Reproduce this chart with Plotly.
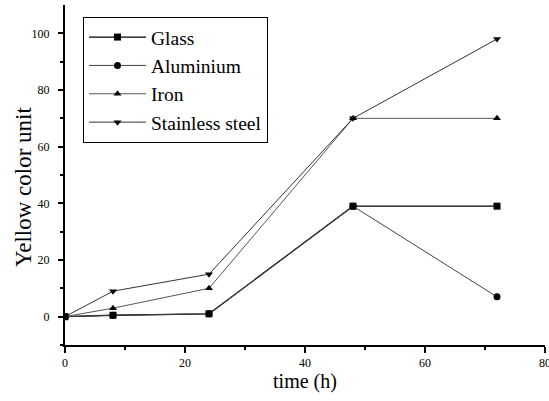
import plotly.graph_objects as go

time_h = [0, 8, 24, 48, 72]
glass = [0, 0.5, 1, 39, 39]
aluminium = [0, 0.5, 1, 39, 7]
iron = [0, 3, 10, 70, 70]
stainless = [0, 9, 15, 70, 98]

series = [
    ("Glass", glass, "square", "#000000", 1.3),
    ("Aluminium", aluminium, "circle", "#444444", 1),
    ("Iron", iron, "triangle-up", "#555555", 1),
    ("Stainless steel", stainless, "triangle-down", "#333333", 1),
]

fig = go.Figure()
for name, vals, sym, col, lw in series:
    fig.add_trace(go.Scatter(
        x=time_h, y=vals, name=name, mode="lines+markers",
        line=dict(color=col, width=lw),
        marker=dict(symbol=sym, size=7, color="black"),
    ))

font = "Liberation Serif"
fig.update_layout(
    width=549, height=401,
    margin=dict(l=65, r=4, t=5, b=56),
    paper_bgcolor="white", plot_bgcolor="white",
    font=dict(family=font, color="black", size=12),
    showlegend=True,
    legend=dict(
        x=0.0375, y=0.965, xanchor="left", yanchor="top",
        bordercolor="black", borderwidth=1, bgcolor="white",
        font=dict(family=font, size=19.5, color="black"),
        tracegroupgap=0, itemwidth=57,
    ),
    xaxis=dict(
        range=[0, 80], tickvals=[0, 20, 40, 60, 80],
        automargin=False, ticklabeloverflow="allow",
        showline=True, linecolor="black", linewidth=2,
        ticks="outside", ticklen=6, tickwidth=2, tickcolor="black",
        minor=dict(tickvals=[10, 30, 50, 70], ticks="outside", ticklen=3, tickwidth=2, tickcolor="black"),
        showgrid=False, zeroline=False,
        title=dict(text="time (h)", font=dict(family=font, size=20), standoff=2),
        tickfont=dict(family=font, size=12),
    ),
    yaxis=dict(
        range=[-10, 110], tickvals=[0, 20, 40, 60, 80, 100],
        automargin=False,
        showline=True, linecolor="black", linewidth=2,
        ticks="outside", ticklen=5, tickwidth=2, tickcolor="black",
        ticklabelstandoff=6,
        minor=dict(tickvals=[-10, 10, 30, 50, 70, 90], ticks="outside", ticklen=3, tickwidth=2, tickcolor="black"),
        showgrid=False, zeroline=False,
        tickfont=dict(family=font, size=12),
    ),
    annotations=[dict(
        text="Yellow color unit", xref="paper", yref="paper",
        x=-0.085, y=0.465, xanchor="center", yanchor="middle",
        textangle=-90, showarrow=False,
        font=dict(family=font, size=23, color="black"),
    )],
)

fig.write_html(
    "out.html",
    config={"displayModeBar": False},
    post_script="document.body.style.margin='0';document.body.style.overflow='hidden';",
)
